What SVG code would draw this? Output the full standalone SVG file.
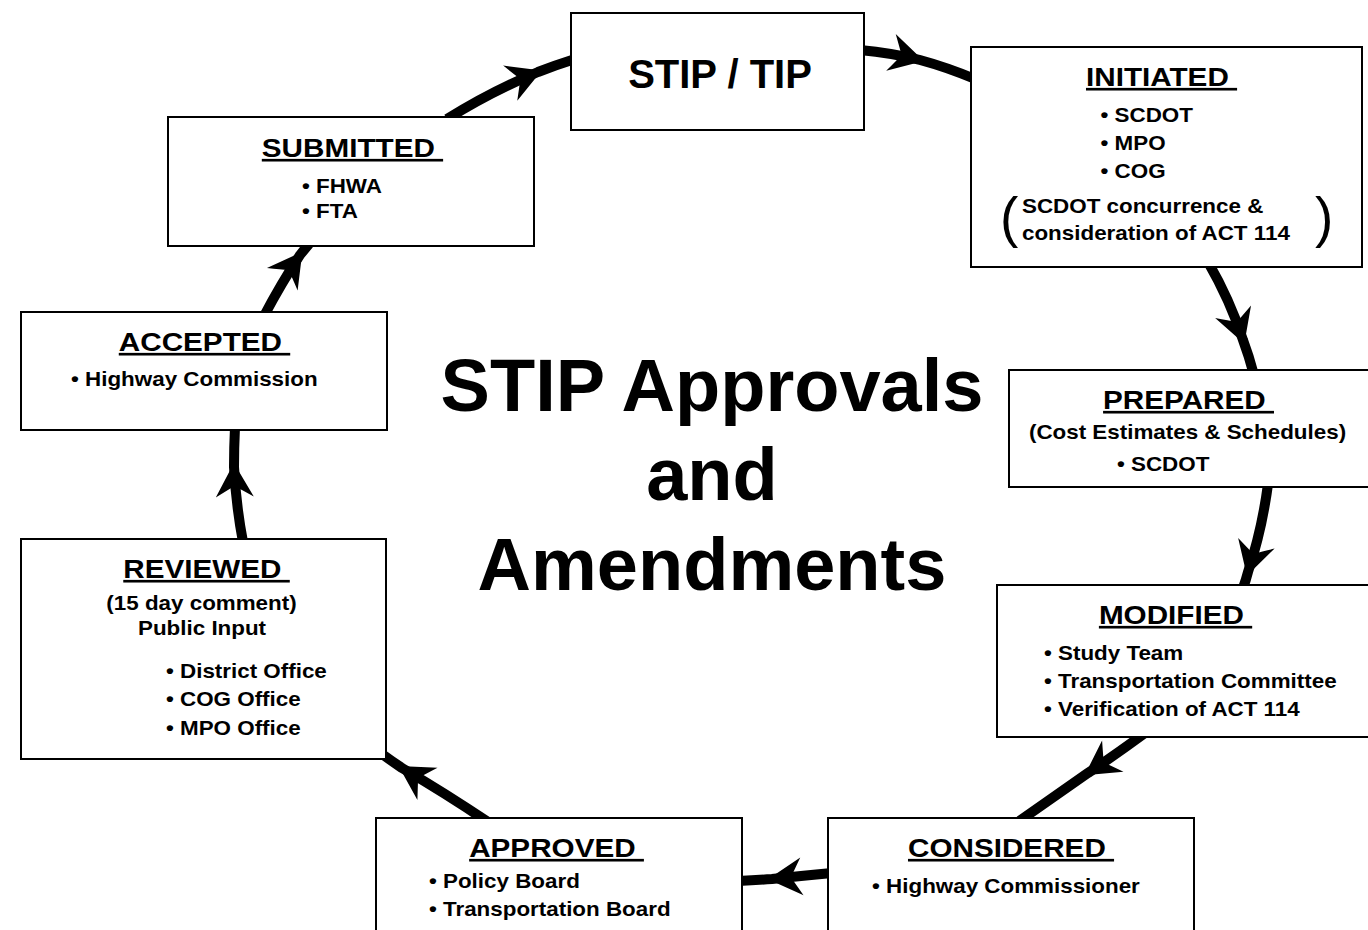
<svg xmlns="http://www.w3.org/2000/svg" width="1368" height="930" viewBox="0 0 1368 930">
<style>
.box{fill:#fff;stroke:#000;stroke-width:2}
.con{fill:none;stroke:#000;stroke-width:10;marker-mid:url(#arr)}
text{font-family:"Liberation Sans",Arial,sans-serif;font-weight:bold;fill:#000}
.hd{font-size:26.5px;text-decoration:underline;text-decoration-thickness:3px;text-anchor:middle}
.bd{font-size:20px}
.ct{text-anchor:middle}
.par{font-size:55px;font-weight:normal}
.big{font-size:74px;text-anchor:middle}
.tip{font-size:40px;text-anchor:middle}
</style>
<defs>
<marker id="arr" viewBox="-40 -22 46 44" refX="0" refY="0" markerWidth="46" markerHeight="44" markerUnits="userSpaceOnUse" orient="auto" overflow="visible">
<path d="M4,0 L-30,-19 Q-23,-7 -19,0 Q-23,7 -30,19 Z" fill="#000"/>
</marker>
</defs>
<rect width="1368" height="930" fill="#fff"/>
<g id="connectors">
<path class="con" d="M447,119 Q490,92 538,72 Q556,65 575,59"/>
<path class="con" d="M860,50 Q892,53 920,60 Q946,67 975,79"/>
<path class="con" d="M1208,262 Q1230,300 1243,340 Q1249,356 1254,375"/>
<path class="con" d="M1268,484 Q1262,530 1248,572 Q1246,580 1243,588"/>
<path class="con" d="M1145,733 Q1115,755 1088,773 Q1055,796 1018,822"/>
<path class="con" d="M832,873 Q800,876 772,879 Q757,880 738,881"/>
<path class="con" d="M488,822 Q445,793 402,768 Q393,762 382,754"/>
<path class="con" d="M243,542 Q236,505 234,467 Q234,448 235,427"/>
<path class="con" d="M264,316 Q282,282 300,255 Q304,250 309,244"/>
</g>
<g id="stip">
<rect class="box" x="571" y="13" width="293" height="117"/>
<text class="tip" x="720" y="88">STIP / TIP</text>
</g>
<g id="initiated">
<rect class="box" x="971" y="47" width="391" height="220"/>
<g transform="scale(1.12 1)">
<text class="hd" x="1037.1" y="86">INITIATED&#160;</text>
<text class="bd" x="982.6" y="122">• SCDOT</text>
<text class="bd" x="982.6" y="150">• MPO</text>
<text class="bd" x="982.6" y="178">• COG</text>
<text class="bd" x="912.5" y="213">SCDOT concurrence &amp;</text>
<text class="bd" x="912.5" y="240">consideration of ACT 114</text>
</g>
<text class="par" x="1000" y="236">(</text>
<text class="par" x="1315" y="236">)</text>
</g>
<g id="prepared">
<rect class="box" x="1009" y="370" width="370" height="117"/>
<g transform="scale(1.12 1)">
<text class="hd" x="1061.2" y="409">PREPARED&#160;</text>
<text class="bd ct" x="1060.3" y="439">(Cost Estimates &amp; Schedules)</text>
<text class="bd" x="997.3" y="471">• SCDOT</text>
</g>
</g>
<g id="modified">
<rect class="box" x="997" y="585" width="380" height="152"/>
<g transform="scale(1.12 1)">
<text class="hd" x="1049.6" y="624">MODIFIED&#160;</text>
<text class="bd" x="932.1" y="660">• Study Team</text>
<text class="bd" x="932.1" y="688">• Transportation Committee</text>
<text class="bd" x="932.1" y="716">• Verification of ACT 114</text>
</g>
</g>
<g id="considered">
<rect class="box" x="828" y="818" width="366" height="130"/>
<g transform="scale(1.12 1)">
<text class="hd" x="902.7" y="857">CONSIDERED&#160;</text>
<text class="bd" x="778.6" y="893">• Highway Commissioner</text>
</g>
</g>
<g id="approved">
<rect class="box" x="376" y="818" width="366" height="130"/>
<g transform="scale(1.12 1)">
<text class="hd" x="496.9" y="857">APPROVED&#160;</text>
<text class="bd" x="383" y="888">• Policy Board</text>
<text class="bd" x="383" y="916">• Transportation Board</text>
</g>
</g>
<g id="reviewed">
<rect class="box" x="21" y="539" width="365" height="220"/>
<g transform="scale(1.12 1)">
<text class="hd" x="184.4" y="578">REVIEWED&#160;</text>
<text class="bd ct" x="179.9" y="610">(15 day comment)</text>
<text class="bd ct" x="180.4" y="635">Public Input</text>
<text class="bd" x="148.2" y="678">• District Office</text>
<text class="bd" x="148.2" y="706">• COG Office</text>
<text class="bd" x="148.2" y="735">• MPO Office</text>
</g>
</g>
<g id="accepted">
<rect class="box" x="21" y="312" width="366" height="118"/>
<g transform="scale(1.12 1)">
<text class="hd" x="182.6" y="351">ACCEPTED&#160;</text>
<text class="bd" x="63.4" y="386">• Highway Commission</text>
</g>
</g>
<g id="submitted">
<rect class="box" x="168" y="117" width="366" height="129"/>
<g transform="scale(1.12 1)">
<text class="hd" x="314.7" y="157">SUBMITTED&#160;</text>
<text class="bd" x="269.6" y="193">• FHWA</text>
<text class="bd" x="269.6" y="218">• FTA</text>
</g>
</g>
<g id="title">
<text class="big" x="712" y="411">STIP Approvals</text>
<text class="big" x="712" y="500">and</text>
<text class="big" x="712" y="590">Amendments</text>
</g>
</svg>
